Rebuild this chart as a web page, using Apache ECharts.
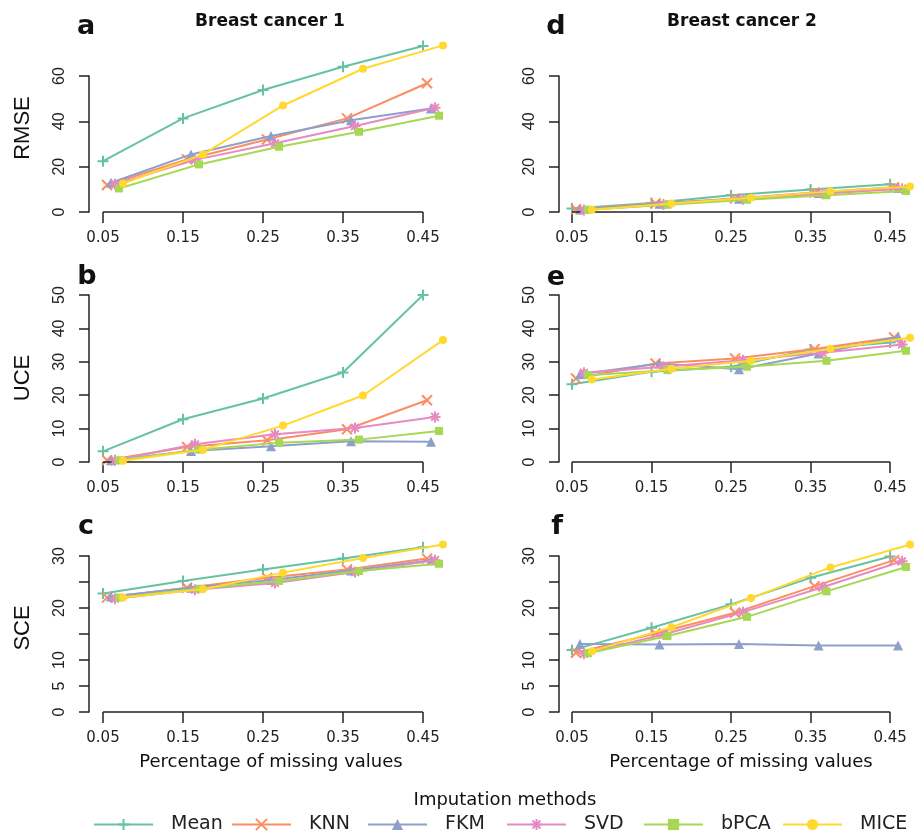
<!DOCTYPE html>
<html>
<head>
<meta charset="utf-8">
<script src="https://cdn.jsdelivr.net/npm/echarts@6/dist/echarts.min.js"></script>
<style>
html,body{margin:0;padding:0;background:#fff;}
#chart{width:914px;height:835px;}
</style>
</head>
<body>
<div id="chart"></div>
<script>
// ---- data ----
var pct = [0.05, 0.15, 0.25, 0.35, 0.45];
var methods = ['Mean', 'KNN', 'FKM', 'SVD', 'bPCA', 'MICE'];
var xTicks = [0.05, 0.15, 0.25, 0.35, 0.45];
var rmseTicks = [0, 20, 40, 60];
var uceTicks = [0, 10, 20, 30, 40, 50];
var sceTicks = [0, 5, 10, 15, 20, 25, 30];
var sceLabels = [0, 5, 10, 20, 30];

// Breast cancer 1
var rmse1 = {
  Mean: [22.4, 41.3, 53.8, 64.1, 73.2],
  KNN:  [11.9, 23.2, 32.0, 41.3, 56.8],
  FKM:  [12.9, 25.4, 33.5, 40.5, 45.7],
  SVD:  [12.2, 23.0, 30.3, 37.9, 46.0],
  bPCA: [10.4, 21.0, 28.8, 35.4, 42.5],
  MICE: [12.6, 25.4, 47.0, 63.2, 73.5]
};
var uce1 = {
  Mean: [3.2, 12.8, 19.0, 26.8, 50.0],
  KNN:  [0.5, 4.5, 6.5, 9.8, 18.5],
  FKM:  [0.5, 3.3, 4.7, 6.2, 6.1],
  SVD:  [0.5, 5.3, 8.3, 10.2, 13.5],
  bPCA: [0.5, 3.7, 5.8, 6.7, 9.3],
  MICE: [0.4, 3.7, 10.9, 19.9, 36.5]
};
var sce1 = {
  Mean: [22.8, 25.2, 27.4, 29.5, 31.7],
  KNN:  [22.0, 23.9, 25.8, 27.4, 29.5],
  FKM:  [22.2, 23.9, 25.4, 27.2, 29.2],
  SVD:  [21.8, 23.5, 24.8, 26.9, 29.2],
  bPCA: [22.0, 23.7, 25.2, 27.1, 28.5],
  MICE: [22.0, 23.6, 26.8, 29.6, 32.2]
};
// Breast cancer 2
var rmse2 = {
  Mean: [1.5, 4.0, 7.4, 9.9, 12.2],
  KNN:  [1.2, 3.8, 6.0, 8.6, 10.9],
  FKM:  [1.1, 3.6, 5.9, 8.4, 10.6],
  SVD:  [0.9, 3.3, 5.6, 8.0, 10.3],
  bPCA: [1.0, 3.2, 5.4, 7.4, 9.3],
  MICE: [1.0, 3.7, 6.3, 9.1, 11.3]
};
var uce2 = {
  Mean: [23.3, 27.0, 28.5, 33.7, 35.8],
  KNN:  [25.0, 29.5, 31.0, 33.8, 37.3],
  FKM:  [26.3, 29.5, 27.8, 32.5, 37.5],
  SVD:  [26.7, 28.5, 30.5, 32.7, 35.2],
  bPCA: [26.0, 27.5, 28.5, 30.3, 33.3],
  MICE: [24.7, 27.9, 30.3, 33.9, 37.2]
};
var sce2 = {
  Mean: [11.9, 16.2, 20.7, 25.8, 29.9],
  KNN:  [11.4, 15.1, 19.1, 24.2, 29.2],
  FKM:  [13.1, 13.0, 13.1, 12.8, 12.8],
  SVD:  [11.2, 14.9, 19.2, 24.0, 29.0],
  bPCA: [11.3, 14.6, 18.3, 23.2, 27.9],
  MICE: [11.7, 16.3, 21.9, 27.8, 32.2]
};

// ---- styles ----
var jitter = [0, 0.005, 0.01, 0.015, 0.02, 0.025];
var colors = ['#66C2A5', '#FC8D62', '#8DA0CB', '#E78AC3', '#A6D854', '#FFD92F'];
var symbols = [
  'path://M5,0L5,10M0,5L10,5',
  'path://M0,0L10,10M0,10L10,0',
  'triangle',
  'path://M5,0L5,10M0,5L10,5M1.5,1.5L8.5,8.5M1.5,8.5L8.5,1.5',
  'rect',
  'circle'
];
var symSizes = [11, 10, 10, 11, 8, 8];
var stroked = [true, true, false, true, false, false];

var xMaxView = 0.48;     // plot region extends past the last tick (jittered points)
var pxPerUnit = 800;     // 0.1 on x = 80 px
var panels = [
  {data: rmse1, left: 103, top: 76, height: 136, max: 60, interval: 20, ticks: rmseTicks, labels: rmseTicks},
  {data: uce1,  left: 103, top: 295, height: 167, max: 50, interval: 10, ticks: uceTicks, labels: uceTicks},
  {data: sce1,  left: 103, top: 556, height: 156, max: 30, interval: 5, ticks: sceTicks, labels: sceLabels},
  {data: rmse2, left: 572, top: 76, height: 136, max: 60, interval: 20, ticks: rmseTicks, labels: rmseTicks},
  {data: uce2,  left: 572, top: 295, height: 167, max: 50, interval: 10, ticks: uceTicks, labels: uceTicks},
  {data: sce2,  left: 572, top: 556, height: 156, max: 30, interval: 5, ticks: sceTicks, labels: sceLabels}
];

var axisColor = '#222';
var grids = [], xAxes = [], yAxes = [], series = [];
panels.forEach(function (p, gi) {
  grids.push({left: p.left, top: p.top, width: (xMaxView - 0.05) * pxPerUnit, height: p.height, containLabel: false});
  xAxes.push({
    type: 'value', gridIndex: gi, min: 0.05, max: xMaxView,
    axisLine: {show: false},
    axisTick: {show: true, length: 11, lineStyle: {color: axisColor, width: 1.5}, customValues: xTicks},
    axisLabel: {show: true, margin: 19, color: '#222', fontFamily: 'DejaVu Sans', fontSize: 15,
      customValues: xTicks,
      formatter: function (v) { return v.toFixed(2); }},
    splitLine: {show: false}
  });
  yAxes.push({
    type: 'value', gridIndex: gi, min: 0, max: p.max, interval: p.interval, offset: gi < 3 ? 14 : 13,
    axisLine: {show: true, lineStyle: {color: axisColor, width: 1.5}},
    axisTick: {show: true, length: 10, lineStyle: {color: axisColor, width: 1.5}, customValues: p.ticks},
    axisLabel: {show: true, rotate: 90, margin: 21, color: '#222', fontFamily: 'Liberation Sans', fontSize: 16,
      customValues: p.labels},
    splitLine: {show: false}
  });
  methods.forEach(function (m, mi) {
    var vals = p.data[m];
    var s = {
      name: m, type: 'line', xAxisIndex: gi, yAxisIndex: gi, clip: false,
      data: vals.map(function (v, i) { return [pct[i] + jitter[mi], v]; }),
      symbol: symbols[mi], symbolSize: symSizes[mi], showAllSymbol: true,
      lineStyle: {color: colors[mi], width: 2},
      itemStyle: {color: colors[mi], borderColor: colors[mi], borderWidth: stroked[mi] ? 2 : 0},
      emphasis: {disabled: true},
      animation: false,
      z: 2 + mi
    };
    if (mi === 0) {
      // x axis line spanning only the tick range (first to last tick)
      s.markLine = {
        silent: true, symbol: ['none', 'none'], animation: false,
        label: {show: false},
        lineStyle: {color: axisColor, width: 1.5, type: 'solid'},
        emphasis: {disabled: true},
        data: [[{coord: [xTicks[0], 0]}, {coord: [xTicks[xTicks.length - 1], 0]}]]
      };
    }
    series.push(s);
  });
});

var legendLefts = [93, 231, 367, 506, 643, 782];
var legends = methods.map(function (m, i) {
  return {
    data: [m], left: legendLefts[i], top: 815, orient: 'horizontal', padding: 0,
    itemWidth: 59, itemHeight: 14, selectedMode: false,
    textStyle: {fontFamily: 'DejaVu Sans', fontSize: 19, color: '#222', padding: [0, 0, 0, 13]}
  };
});

function txt(x, y, s, font, opts) {
  opts = opts || {};
  return {
    type: 'text', x: x, y: y, rotation: opts.rot || 0, silent: true,
    style: {text: s, font: font, fill: '#111', textAlign: 'center', textVerticalAlign: 'middle'}
  };
}
var graphics = [
  txt(270, 22, 'Breast cancer 1', 'bold 17px "DejaVu Sans"'),
  txt(742, 22, 'Breast cancer 2', 'bold 17px "DejaVu Sans"'),
  txt(86, 27, 'a', 'bold 27px "DejaVu Sans"'),
  txt(556, 27, 'd', 'bold 27px "DejaVu Sans"'),
  txt(87, 277, 'b', 'bold 27px "DejaVu Sans"'),
  txt(556, 278, 'e', 'bold 27px "DejaVu Sans"'),
  txt(86, 527, 'c', 'bold 27px "DejaVu Sans"'),
  txt(557, 527, 'f', 'bold 27px "DejaVu Sans"'),
  txt(23, 128, 'RMSE', '22px "Liberation Sans"', {rot: Math.PI / 2}),
  txt(23, 378, 'UCE', '22px "Liberation Sans"', {rot: Math.PI / 2}),
  txt(23, 628, 'SCE', '22px "Liberation Sans"', {rot: Math.PI / 2}),
  txt(271, 762, 'Percentage of missing values', '18px "DejaVu Sans"'),
  txt(741, 762, 'Percentage of missing values', '18px "DejaVu Sans"'),
  txt(505, 800, 'Imputation methods', '18px "DejaVu Sans"')
];

var chart = echarts.init(document.getElementById('chart'), null, {renderer: 'canvas'});
chart.setOption({
  backgroundColor: '#fff',
  animation: false,
  grid: grids,
  xAxis: xAxes,
  yAxis: yAxes,
  legend: legends,
  graphic: graphics,
  series: series
});
</script>
</body>
</html>
